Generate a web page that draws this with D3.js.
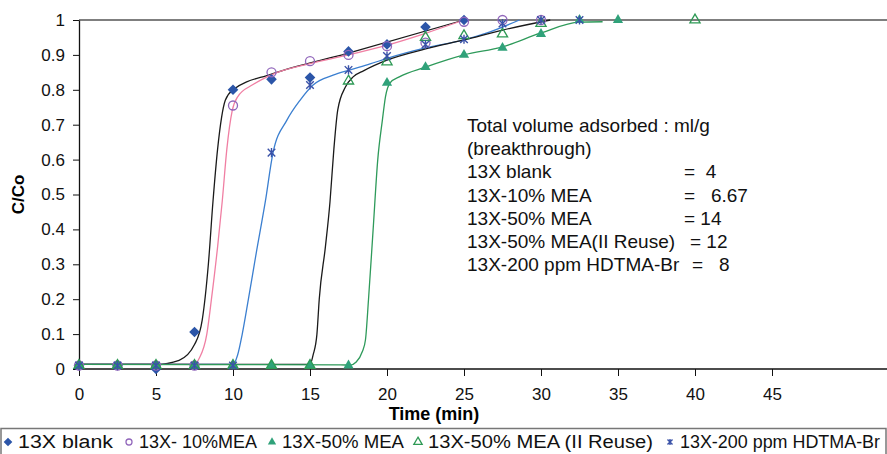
<!DOCTYPE html>
<html>
<head>
<meta charset="utf-8" />
<title>Breakthrough curves</title>
<script src="https://cdn.jsdelivr.net/npm/d3@7"></script>
<style>
  body { margin: 0; background: #fff; }
  svg { display: block; font-family: "Liberation Sans", Arial, sans-serif; }
</style>
</head>
<body>
<svg id="chart" width="887" height="454"></svg>
<script>
// measured points (time in min, C/Co)
const blankPts = [[0,0.01],[2.5,0.01],[5,0.0],[7.5,0.106],[10,0.80],[12.5,0.83],[15,0.835],[17.5,0.91],[20,0.93],[22.5,0.98],[25,1.0]];
const mea10Pts = [[0,0.01],[2.5,0.01],[5,0.01],[7.5,0.01],[10,0.755],[12.5,0.85],[15,0.882],[17.5,0.90],[20,0.925],[22.5,0.935],[25,0.995],[27.5,1.0],[30,1.0]];
const mea50Pts = [[0,0.01],[2.5,0.01],[5,0.01],[7.5,0.01],[10,0.01],[12.5,0.01],[15,0.01],[17.5,0.01],[20,0.82],[22.5,0.865],[25,0.90],[27.5,0.92],[30,0.96],[32.5,1.0],[35,1.0]];
const reusePts = [[0,0.01],[2.5,0.01],[5,0.01],[7.5,0.01],[10,0.01],[12.5,0.01],[15,0.01],[17.5,0.825],[20,0.88],[22.5,0.95],[25,0.955],[27.5,0.96],[30,0.99],[40,1.0]];
const hdtmaPts = [[0,0.01],[2.5,0.01],[5,0.01],[7.5,0.01],[10,0.01],[12.5,0.62],[15,0.814],[17.5,0.857],[20,0.897],[22.5,0.93],[25,0.945],[27.5,0.99],[30,1.0],[32.5,1.0]];

// fitted curves
const blankFit = [[0,0.013],[5,0.013],[6.5,0.025],[7.5,0.07],[8,0.14],[8.4,0.3],[8.7,0.48],[9.0,0.63],[9.5,0.77],[10,0.80],[12.5,0.845],[17.5,0.905],[25,1.0]];
const mea10Fit = [[0,0.013],[7.5,0.013],[7.8,0.03],[8.3,0.10],[8.6,0.2],[9.0,0.35],[9.3,0.48],[9.6,0.63],[9.95,0.74],[10.3,0.78],[11.3,0.815],[12.5,0.843],[15,0.875],[17.5,0.90],[20,0.928],[22.5,0.962],[25,1.0]];
const hdtmaFit = [[0,0.013],[10,0.013],[10.3,0.04],[10.6,0.10],[11,0.2],[11.5,0.33],[12.1,0.48],[12.6,0.62],[13.5,0.713],[14.35,0.77],[15.2,0.814],[16.5,0.842],[17.6,0.857],[18.9,0.874],[20,0.89],[22.5,0.92],[25,0.943],[26.5,0.963],[28.6,1.0]];
const reuseFit = [[0,0.013],[15,0.013],[15.2,0.04],[15.45,0.10],[15.6,0.2],[16.0,0.35],[16.3,0.48],[16.55,0.63],[16.8,0.742],[17.3,0.808],[17.8,0.837],[18.5,0.855],[20,0.885],[22.5,0.917],[25,0.943],[27.5,0.971],[30.6,1.0]];
const mea50Fit = [[0,0.013],[17,0.012],[17.6,0.011],[18.0,0.02],[18.4,0.05],[18.6,0.083],[18.8,0.2],[19.1,0.4],[19.4,0.6],[19.7,0.713],[19.9,0.78],[20.2,0.82],[20.8,0.837],[22.5,0.865],[25,0.9],[27.5,0.923],[30,0.963],[32.5,0.994],[34,0.995]];

const seriesNames = ["13X blank", "13X- 10%MEA", "13X-50% MEA", "13X-50% MEA (II Reuse)", "13X-200 ppm HDTMA-Br"];
const xTicks = [0,5,10,15,20,25,30,35,40,45];
const yTicks = [0,0.1,0.2,0.3,0.4,0.5,0.6,0.7,0.8,0.9,1];

const noteTitle = ["Total volume adsorbed : ml/g", "(breakthrough)"];
const noteLabels = ["13X blank", "13X-10% MEA", "13X-50% MEA", "13X-50% MEA(II Reuse)", "13X-200 ppm HDTMA-Br"];
const noteValues = ["=  4", "=   6.67", "= 14", "= 12", "=   8"];

const svg = d3.select('#chart');
const x = d3.scaleLinear().domain([0, 52.5]).range([79, 887.5]);
const y = d3.scaleLinear().domain([0, 1]).range([369, 20]);

// top border of plot area
svg.append('line')
    .attr('x1', x(0)).attr('x2', 887)
    .attr('y1', y(1)).attr('y2', y(1))
    .style('stroke', '#555').style('stroke-width', 1.5);

const fmtY = d => d === 0 ? '0' : d === 1 ? '1' : d3.format('.1f')(d);
const yAxis = svg.append('g')
    .attr('transform', `translate(${x(0)},0)`)
    .call(d3.axisLeft(y).tickValues(yTicks).tickFormat(fmtY).tickSize(6).tickSizeOuter(0));
const xAxis = svg.append('g')
    .attr('transform', `translate(0,${y(0)})`)
    .call(d3.axisBottom(x).tickValues(xTicks).tickSize(7).tickSizeOuter(0));
[yAxis, xAxis].forEach(g => {
    g.select('.domain').style('stroke', '#111').style('stroke-width', 1.3);
    g.selectAll('.tick line').style('stroke', '#111');
    g.selectAll('text').style('font-size', '17px').style('fill', '#111')
        .style('font-family', '"Liberation Sans", Arial, sans-serif');
});
yAxis.selectAll('text').attr('x', -14);
xAxis.selectAll('text').attr('y', 19);
xAxis.select('.domain').attr('d', `M${x(0)},0H887`);

svg.append('text')
    .attr('transform', `translate(24,${y(0.5)}) rotate(-90)`)
    .attr('text-anchor', 'middle')
    .style('font-weight', 'bold').style('font-size', '17px')
    .text('C/Co');
svg.append('text')
    .attr('x', 434).attr('y', 420)
    .attr('text-anchor', 'middle')
    .style('font-weight', 'bold').style('font-size', '18px')
    .text('Time (min)');

// fitted lines
const line = d3.line().x(d => x(d[0])).y(d => y(d[1])).curve(d3.curveMonotoneX);
const fits = [
    [blankFit, '#1a1a1a'],
    [mea10Fit, '#f07fa3'],
    [hdtmaFit, '#3b7fd0'],
    [reuseFit, '#1a1a1a'],
    [mea50Fit, '#2e9a5a']
];
svg.append('g').selectAll('path')
    .data(fits)
    .enter().append('path')
    .attr('d', d => line(d[0]))
    .style('fill', 'none')
    .style('stroke', d => d[1])
    .style('stroke-width', 1.3);

// markers
const diamond = d3.symbol().type(d3.symbolDiamond2);
const tri = d3.symbol().type(d3.symbolTriangle);
function asterisk(s) {
    return `M${-s},${-s}L${s},${s}M${-s},${s}L${s},${-s}M0,${-s * 1.2}L0,${s * 1.2}`;
}
const markerDefs = [
    { pts: blankPts, draw: (g, s) => g.append('path').attr('d', diamond.size(s * 8)()).style('fill', '#2b55a8') },
    { pts: mea10Pts, draw: (g, s) => g.append('circle').attr('r', s * 0.5).style('fill', 'none').style('stroke', '#9166bb').style('stroke-width', 1.3) },
    { pts: mea50Pts, draw: (g, s) => g.append('path').attr('d', tri.size(s * 5)()).style('fill', '#30a27a') },
    { pts: reusePts, draw: (g, s) => g.append('path').attr('d', tri.size(s * 5)()).style('fill', 'none').style('stroke', '#2e9a55').style('stroke-width', 1.3) },
    { pts: hdtmaPts, draw: (g, s) => g.append('path').attr('d', asterisk(s * 0.42)).style('fill', 'none').style('stroke', '#3a52a8').style('stroke-width', 1.4) }
];
markerDefs.forEach(m => {
    svg.append('g').selectAll('g')
        .data(m.pts)
        .enter().append('g')
        .attr('transform', d => `translate(${x(d[0])},${y(d[1])})`)
        .each(function() { m.draw(d3.select(this), 9); });
});

// note
const note = svg.append('g').style('font-size', '19px').style('fill', '#111');
noteTitle.forEach((t, i) => {
    note.append('text').attr('x', 467).attr('y', 132 + i * 23.2).text(t);
});
const eqX = [684, 684, 684, 690, 692];
noteLabels.forEach((t, i) => {
    note.append('text').attr('x', 467).attr('y', 178.4 + i * 23.2).text(t);
    note.append('text').attr('x', eqX[i]).attr('y', 178.4 + i * 23.2).attr('xml:space', 'preserve').text(noteValues[i]);
});

// legend
svg.append('rect')
    .attr('x', 1).attr('y', 428.5).attr('width', 885).attr('height', 30)
    .style('fill', '#fff').style('stroke', '#777').style('stroke-width', 1.5);
const legX = [8, 129, 272, 418, 670];
const legW = [95, 118, 122, 225, 200];
const leg = svg.append('g');
seriesNames.forEach((name, i) => {
    const g = leg.append('g').attr('transform', `translate(${legX[i]},442)`);
    markerDefs[i].draw(g, 6);
    leg.append('text')
        .attr('x', legX[i] + 10).attr('y', 448)
        .attr('textLength', legW[i]).attr('lengthAdjust', 'spacingAndGlyphs')
        .style('font-size', '18px').style('fill', '#111')
        .text(name);
});
</script>
</body>
</html>
